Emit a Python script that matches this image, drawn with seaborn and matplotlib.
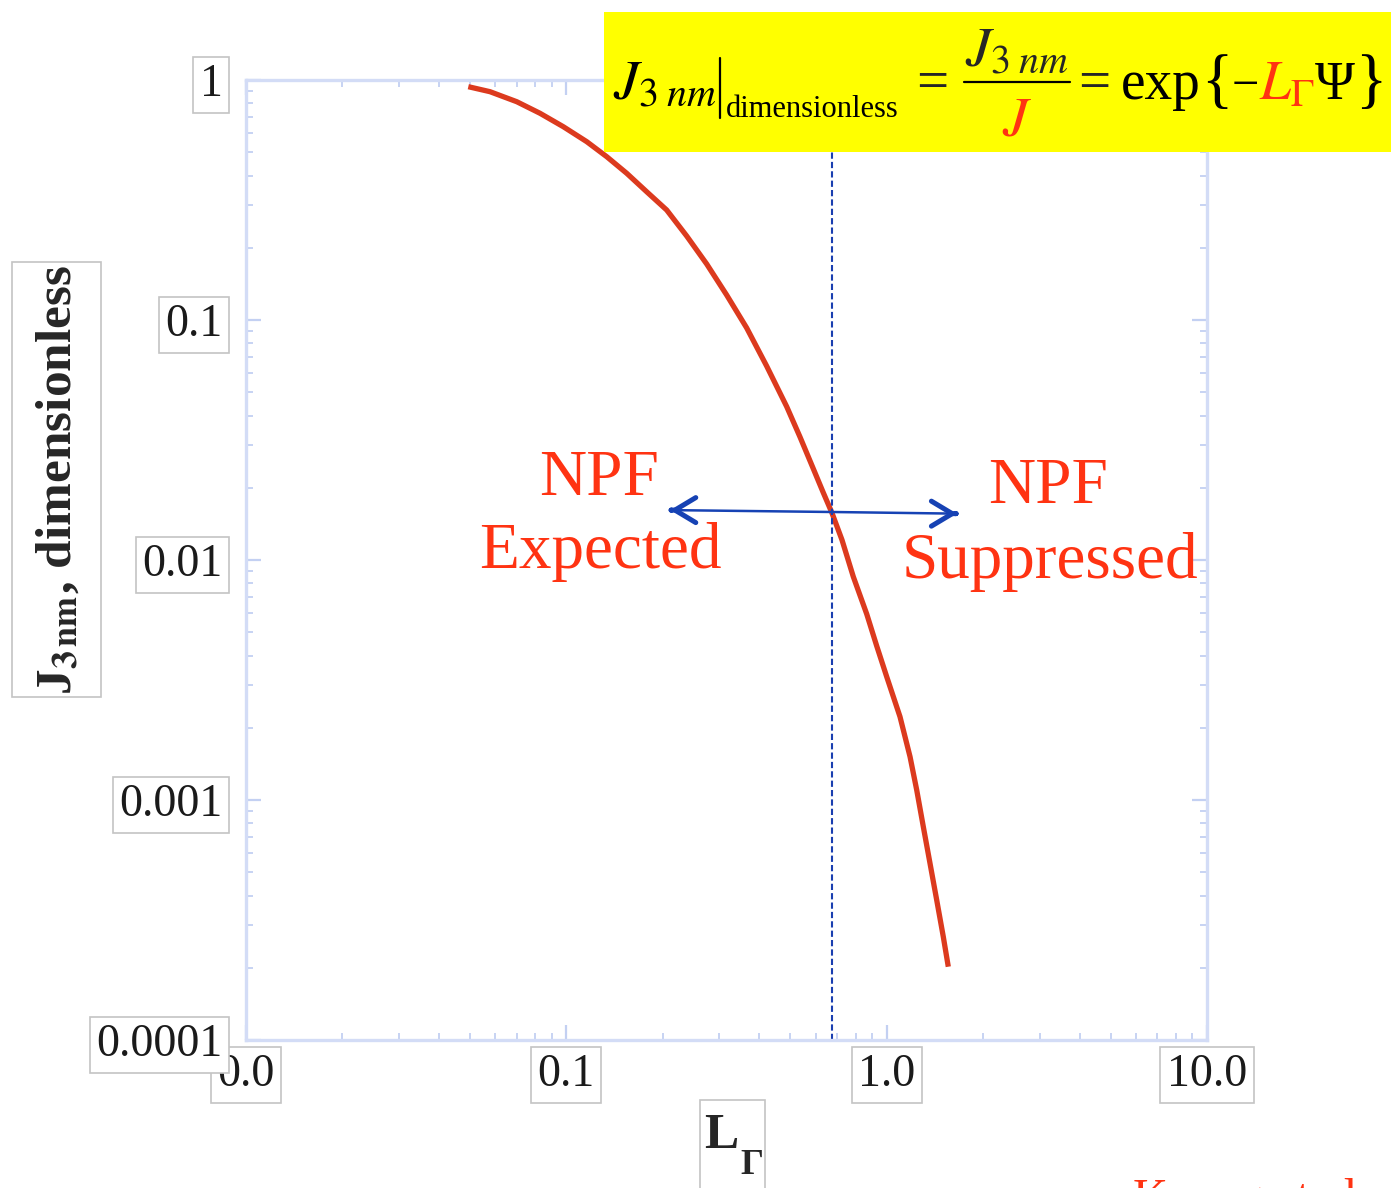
import matplotlib
matplotlib.use("Agg")
import matplotlib.pyplot as plt
import matplotlib.ticker as mticker
from matplotlib.patches import Rectangle
from matplotlib.lines import Line2D
import pandas as pd
import seaborn as sns

# Dimensionless 3 nm formation rate against the L_Gamma parameter
l_gamma = [0.04943, 0.05777, 0.07002, 0.08276, 0.09784, 0.1158, 0.1337, 0.1543,
           0.1781, 0.2057, 0.2375, 0.2743, 0.3166, 0.3657, 0.4220, 0.4876,
           0.5364, 0.5889, 0.6328, 0.6750, 0.7254, 0.7868, 0.8664, 0.9310,
           1.0002, 1.1005, 1.1829, 1.2410, 1.3013, 1.3654, 1.4327, 1.5023,
           1.5573]
j_3nm = [0.9378, 0.8939, 0.8120, 0.7266, 0.6389, 0.5534, 0.4791, 0.4087,
         0.3424, 0.2873, 0.2239, 0.1711, 0.1271, 0.09261, 0.06431, 0.04352,
         0.03255, 0.02417, 0.01920, 0.01570, 0.01212, 0.008518, 0.005957,
         0.004382, 0.003264, 0.002224, 0.001515, 0.001101, 0.000774,
         0.000545, 0.0003833, 0.0002694, 0.0002020]

# Threshold separating expected / suppressed new particle formation
threshold_l = 0.675
threshold_j = 0.01585
arrow_left = (0.2108, 0.01614)
arrow_right = (1.659, 0.0156)

x_ticks = [0.01, 0.1, 1.0, 10.0]
x_tick_labels = ["0.0", "0.1", "1.0", "10.0"]
y_ticks = [0.0001, 0.001, 0.01, 0.1, 1.0]
y_tick_labels = ["0.0001", "0.001", "0.01", "0.1", "1"]

sns.set_theme(style="white")
plt.rcParams["font.family"] = ["Liberation Serif", "DejaVu Serif"]
plt.rcParams["mathtext.fontset"] = "stix"

W, H = 1391, 1188
fig = plt.figure(figsize=(W / 100, H / 100), dpi=100)
renderer = fig.canvas.get_renderer()


def fx(x):
    return x / W


def fy(y):
    return 1 - y / H


ax = fig.add_axes([fx(246), fy(1040), fx(1207) - fx(246), fy(80) - fy(1040)])

df = pd.DataFrame({"L": l_gamma, "J": j_3nm})
sns.lineplot(data=df, x="L", y="J", ax=ax, sort=False, estimator=None,
             color="#dc3a1e", linewidth=3.8, solid_capstyle="butt",
             solid_joinstyle="round")

ax.set_xscale("log")
ax.set_yscale("log")
ax.set_xlim(0.01, 10)
ax.set_ylim(0.0001, 1)
ax.set_xlabel("")
ax.set_ylabel("")

frame_col = "#d3dcf6"
tick_col = "#c3d0f2"
for sp in ax.spines.values():
    sp.set_color(frame_col)
    sp.set_linewidth(2.4)

ax.xaxis.set_major_locator(mticker.FixedLocator(x_ticks))
ax.xaxis.set_major_formatter(mticker.FixedFormatter(x_tick_labels))
ax.yaxis.set_major_locator(mticker.FixedLocator(y_ticks))
ax.yaxis.set_major_formatter(mticker.FixedFormatter(y_tick_labels))
ax.xaxis.set_minor_locator(mticker.LogLocator(base=10, subs=range(2, 10)))
ax.yaxis.set_minor_locator(mticker.LogLocator(base=10, subs=range(2, 10)))
ax.xaxis.set_minor_formatter(mticker.NullFormatter())
ax.yaxis.set_minor_formatter(mticker.NullFormatter())

ax.tick_params(which="both", direction="in", colors=tick_col, top=True, right=True,
               bottom=True, left=True)
ax.tick_params(which="major", length=11, width=1.6, labelcolor="#1a1a1a", labelsize=33)
ax.tick_params(which="minor", length=5, width=1.3)
ax.tick_params(axis="x", which="major", pad=10)
ax.tick_params(axis="y", which="major", pad=17)

label_box = dict(boxstyle="square,pad=0.14", facecolor="white", edgecolor="#c4c4c4", linewidth=1.2)
for lab in ax.get_xticklabels() + ax.get_yticklabels():
    lab.set_bbox(label_box)

# Threshold line and direction arrows
ax.axvline(threshold_l, color="#1a3fb0", linestyle=(0, (3, 1.5)), linewidth=1.5)
shaft_kw = dict(arrowstyle="-", color="#1642b4", lw=1.8, shrinkA=0, shrinkB=0)
ax.annotate("", xy=arrow_left, xytext=(threshold_l, threshold_j), arrowprops=shaft_kw)
ax.annotate("", xy=arrow_right, xytext=(threshold_l, threshold_j), arrowprops=shaft_kw)
head_kw = dict(arrowstyle="->,head_length=0.75,head_width=0.45", color="#1642b4",
               lw=3.6, mutation_scale=20, shrinkA=0, shrinkB=0,
               capstyle="round", joinstyle="round")
ax.annotate("", xy=arrow_left, xytext=(arrow_left[0] * 1.01, arrow_left[1]), arrowprops=head_kw)
ax.annotate("", xy=arrow_right, xytext=(arrow_right[0] / 1.01, arrow_right[1]), arrowprops=head_kw)

red = "#ff3312"
for x, y, s in [(599, 495, "NPF"), (600, 568, "Expected"),
                (1048, 503, "NPF"), (1050, 578, "Suppressed")]:
    fig.text(fx(x), fy(y), s, color=red, fontsize=47, ha="center", va="baseline")

# Axis titles
fig.patches.append(Rectangle((fx(12), fy(697)), fx(101) - fx(12), fy(262) - fy(697),
                             transform=fig.transFigure, facecolor="white",
                             edgecolor="#c4c4c4", linewidth=1.2, zorder=2))
fig.text(fx(58), fy(480), r"J$_{\mathbf{3\,nm}}$, dimensionless", rotation=90,
         fontsize=37, fontweight="bold", ha="center", va="center", zorder=4)
fig.patches.append(Rectangle((fx(700), fy(1200)), fx(765) - fx(700), fy(1100) - fy(1200),
                             transform=fig.transFigure, facecolor="white",
                             edgecolor="#c4c4c4", linewidth=1.2, zorder=2))
fig.text(fx(704), fy(1148), "L", fontsize=37, fontweight="bold", ha="left", va="baseline", zorder=4)
fig.text(fx(740), fy(1174), "\u0393", fontsize=26, fontweight="bold", ha="left", va="baseline", zorder=4)

# Reference note, running off the lower edge
fig.text(fx(1133), fy(1212), "Kuang et al.", color=red, fontsize=35, ha="left", va="baseline")

# Formula banner
fig.patches.append(Rectangle((fx(604), fy(152)), fx(1391) - fx(604), fy(12) - fy(152),
                             transform=fig.transFigure, facecolor="#ffff00", edgecolor="none",
                             zorder=2))


def chain(x0, pieces):
    """Place text pieces left to right, each starting where the previous ends."""
    x = x0
    for s, size, color, y, va, gap in pieces:
        x += gap
        t = fig.text(fx(x), fy(y), s, fontsize=size, color=color, ha="left", va=va, zorder=4)
        x = t.get_window_extent(renderer).x1
    return x


fs = 41
end = chain(613, [(r"$J_{3\;nm}$", fs, "black", 99, "baseline", 0)])
fig.lines.append(Line2D([fx(end + 3), fx(end + 3)], [fy(58), fy(118)], transform=fig.transFigure,
                        color="black", linewidth=1.6, zorder=4))
chain(end + 9, [("dimensionless", 22, "black", 117, "baseline", 0)])
fig.text(fx(932), fy(99), "=", fontsize=fs, ha="center", va="baseline", zorder=4)
fig.text(fx(1017), fy(66), r"$J_{3\;nm}$", fontsize=fs, ha="center", va="baseline", zorder=4)
fig.lines.append(Line2D([fx(964), fx(1070)], [fy(82), fy(82)], transform=fig.transFigure,
                        color="black", linewidth=1.6, zorder=4))
fig.text(fx(1017), fy(136), r"$J$", fontsize=fs, color=red, ha="center", va="baseline", zorder=4)
fig.text(fx(1094), fy(99), "=", fontsize=fs, ha="center", va="baseline", zorder=4)
chain(1121, [
    ("exp", 40, "black", 99, "baseline", 0),
    ("{", 47, "black", 84, "center", 0),
    ("\u2212", 35, "black", 99, "baseline", 0),
    (r"$L_{\Gamma}$", 40, red, 99, "baseline", 0),
    ("\u03a8", 39, "black", 99, "baseline", 0),
    ("}", 47, "black", 84, "center", 0),
])

fig.savefig("out.png", dpi=100)
